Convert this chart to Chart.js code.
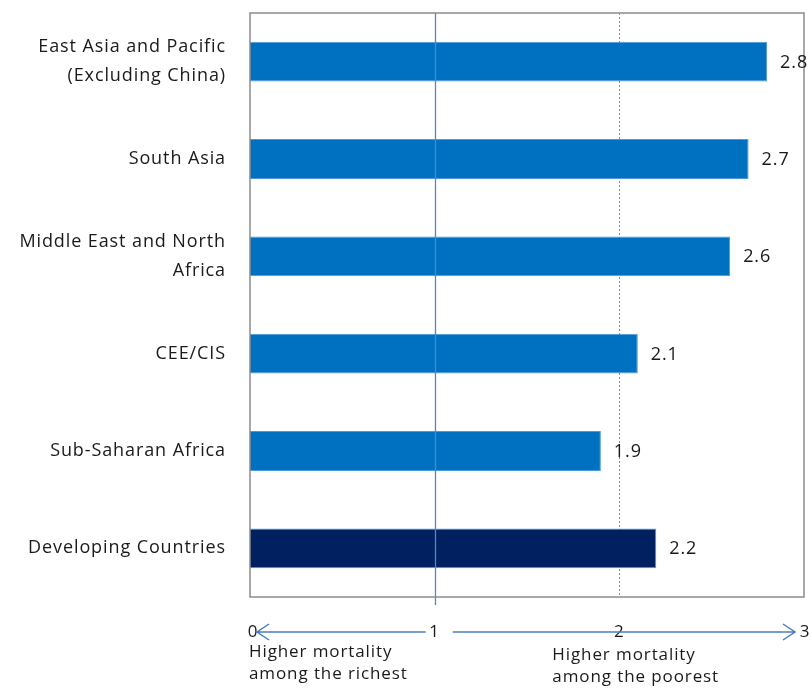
<!DOCTYPE html>
<html>
<head>
<meta charset="utf-8">
<script src="https://cdn.jsdelivr.net/npm/chart.js@4/dist/chart.umd.min.js"></script>
<style>
  html, body { margin: 0; padding: 0; background: #fff; }
  #wrap { width: 811px; height: 688px; }
</style>
</head>
<body>
<div id="wrap"><canvas id="chart" width="811" height="688"></canvas></div>
<script>
const regions = [
  ['East Asia and Pacific', '(Excluding China)'],
  'South Asia',
  ['Middle East and North', 'Africa'],
  'CEE/CIS',
  'Sub-Saharan Africa',
  'Developing Countries'
]
const ratios = [2.8, 2.7, 2.6, 2.1, 1.9, 2.2]
const barColors = ['#0070C0', '#0070C0', '#0070C0', '#0070C0', '#0070C0', '#002060']
const xTicks = [0, 1, 2, 3]
const leftNote = ['Higher mortality', 'among the richest']
const rightNote = ['Higher mortality', 'among the poorest']

const FONT = '"Open Sans", "Liberation Sans", sans-serif'

const extras = {
  id: 'extras',
  beforeUpdate (chart) {
    // the original lettering is loosely spaced
    chart.ctx.letterSpacing = '0.9px'
  },
  beforeDraw (chart) {
    chart.ctx.letterSpacing = '0.9px'
  },
  beforeDatasetsDraw (chart) {
    const {ctx, chartArea: a, scales: {x}} = chart
    ctx.save()
    // dotted line at 2
    ctx.strokeStyle = '#888'
    ctx.lineWidth = 1
    ctx.setLineDash([2, 2])
    ctx.beginPath()
    ctx.moveTo(Math.round(x.getPixelForValue(2)) + 0.5, a.top)
    ctx.lineTo(Math.round(x.getPixelForValue(2)) + 0.5, a.bottom)
    ctx.stroke()
    ctx.restore()
  },
  afterDatasetsDraw (chart) {
    const {ctx, chartArea: a, scales: {x}} = chart
    ctx.save()
    // solid line at 1, drawn over the bars
    const p1 = x.getPixelForValue(1)
    ctx.strokeStyle = '#4f86d0'
    ctx.lineWidth = 1.3
    ctx.beginPath()
    ctx.moveTo(Math.round(p1) + 0.5, a.top)
    ctx.lineTo(Math.round(p1) + 0.5, a.bottom + 8)
    ctx.stroke()

    // plot frame
    ctx.strokeStyle = '#8c8c8c'
    ctx.lineWidth = 1.5
    ctx.strokeRect(a.left, a.top, a.right - a.left, a.bottom - a.top)

    // value labels
    ctx.fillStyle = '#1a1a1a'
    ctx.font = '18px ' + FONT
    ctx.textBaseline = 'middle'
    ctx.textAlign = 'left'
    chart.getDatasetMeta(0).data.forEach((bar, i) => {
      ctx.fillText(String(ratios[i]), bar.x + 13, bar.y + 1)
    })

    // tick numbers under the axis
    const y = 632
    ctx.font = '17px ' + FONT
    ctx.textAlign = 'center'
    xTicks.forEach(v => {
      let px = x.getPixelForValue(v)
      if (v === 0) px += 3
      if (v === 3) px += 1
      ctx.fillText(String(v), px, y)
    })

    // arrows
    const p0 = x.getPixelForValue(0), p3 = x.getPixelForValue(3)
    ctx.strokeStyle = '#4a7ebb'
    ctx.lineWidth = 1.5
    ctx.beginPath()
    ctx.moveTo(p0 + 7, y); ctx.lineTo(p1 - 9, y)
    ctx.moveTo(p0 + 19, y - 8); ctx.lineTo(p0 + 7, y); ctx.lineTo(p0 + 19, y + 8)
    ctx.moveTo(p1 + 18, y); ctx.lineTo(p3 - 9, y)
    ctx.moveTo(p3 - 21, y - 8); ctx.lineTo(p3 - 9, y); ctx.lineTo(p3 - 21, y + 8)
    ctx.stroke()

    // notes
    ctx.fillStyle = '#1a1a1a'
    ctx.font = '17px ' + FONT
    ctx.textAlign = 'left'
    leftNote.forEach((t, i) => ctx.fillText(t, p0 - 1, 652 + i * 22))
    rightNote.forEach((t, i) => ctx.fillText(t, x.getPixelForValue(2) - 67, 655 + i * 22))
    ctx.restore()
  }
}

new Chart(document.getElementById('chart'), {
  type: 'bar',
  data: {
    labels: regions,
    datasets: [{
      data: ratios,
      backgroundColor: barColors,
      borderColor: '#4f9ad8',
      borderWidth: 1,
      barPercentage: 0.41,
      categoryPercentage: 1
    }]
  },
  options: {
    indexAxis: 'y',
    responsive: false,
    animation: false,
    layout: {padding: {top: 13, right: 7, left: 0, bottom: 0}},
    plugins: {legend: {display: false}, tooltip: {enabled: false}},
    scales: {
      x: {
        min: 0,
        max: 3,
        grid: {display: false},
        border: {display: false},
        ticks: {display: false},
        afterFit: s => { s.height = 91; s.paddingLeft = 0; s.paddingRight = 0 }
      },
      y: {
        grid: {display: false},
        border: {display: false},
        ticks: {
          padding: 16,
          color: '#1a1a1a',
          font: {family: FONT, size: 18, lineHeight: 1.6}
        },
        afterFit: s => { s.width = 250; s.paddingTop = 0; s.paddingBottom = 0 }
      }
    }
  },
  plugins: [extras]
})
</script>
</body>
</html>
